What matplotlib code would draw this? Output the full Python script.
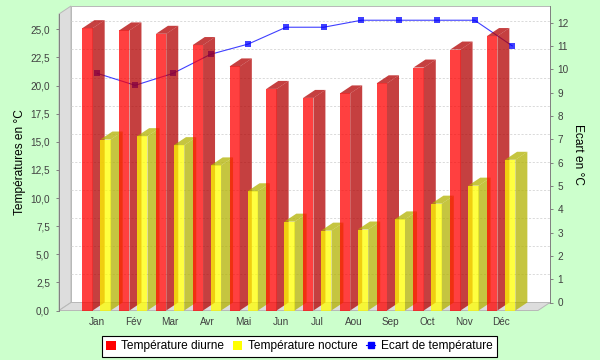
import numpy as np
import matplotlib
matplotlib.use("Agg")
import matplotlib.pyplot as plt
from matplotlib.patches import Polygon, Patch
from matplotlib.lines import Line2D
from matplotlib.ticker import FuncFormatter

# Data
mois = ["Jan", "Fév", "Mar", "Avr", "Mai", "Jun", "Jul", "Aou", "Sep", "Oct", "Nov", "Déc"]
temp_diurne = [25.1, 24.9, 24.6, 23.6, 21.7, 19.7, 18.9, 19.3, 20.2, 21.6, 23.2, 24.4]
temp_nocturne = [15.2, 15.5, 14.7, 12.9, 10.6, 7.9, 7.1, 7.2, 8.1, 9.5, 11.1, 13.4]
ecart = [9.82, 9.31, 9.82, 10.64, 11.08, 11.8, 11.8, 12.1, 12.1, 12.1, 12.1, 11.0]

# Layout (pixels, from top-left of a 600x360 figure)
W, H = 600, 360
PX_L, PX_R, PX_T, PX_B = 59, 538, 14, 310.5   # front plane
DX, DY = 12, 8                                # 3D depth offset
YMAX_L = 26.36
YMAX_R = 12.71
XMIN, XMAX = -1.02, 12.0

BG = "#CCFFCC"
WALL = "#DDDDDD"
AXIS_GREY = "#808080"
TICK_TXT = "#404040"

plt.rcParams['font.family'] = ["Liberation Sans", 'DejaVu Sans']


def frac(x, ytop):
    return (x / W, 1 - ytop / H)


def rect(x0, ytop, x1, ybot):
    return [x0 / W, 1 - ybot / H, (x1 - x0) / W, (ybot - ytop) / H]


fig = plt.figure(figsize=(W / 100, H / 100), dpi=100, facecolor=BG)

# walls (figure level, behind everything)
back = Polygon([frac(PX_L + DX, PX_T - DY), frac(PX_R + DX, PX_T - DY),
                frac(PX_R + DX, PX_B - DY), frac(PX_L + DX, PX_B - DY)],
               closed=True, transform=fig.transFigure, facecolor="white",
               edgecolor="#B8B8B8", linewidth=0.7, zorder=-3)
side = Polygon([frac(PX_L, PX_T), frac(PX_L + DX, PX_T - DY),
                frac(PX_L + DX, PX_B - DY), frac(PX_L, PX_B)],
               closed=True, transform=fig.transFigure, facecolor=WALL,
               edgecolor="#B8B8B8", linewidth=0.7, zorder=-2)
floor = Polygon([frac(PX_L, PX_B), frac(PX_R, PX_B),
                 frac(PX_R + DX, PX_B - DY), frac(PX_L + DX, PX_B - DY)],
                closed=True, transform=fig.transFigure, facecolor=WALL,
                edgecolor="#B8B8B8", linewidth=0.7, zorder=-2)
for p in (back, side, floor):
    fig.add_artist(p)

# secondary axes: back plane, line series
ax2 = fig.add_axes(rect(PX_L, PX_T - DY, PX_R + DX, PX_B - DY), zorder=0)
ax2.patch.set_visible(False)
ax2.set_xlim(XMIN, XMAX)
ax2.set_ylim(0, YMAX_R)
for s in ("left", "top", "bottom"):
    ax2.spines[s].set_visible(False)
ax2.spines["right"].set_color(AXIS_GREY)
ax2.spines["right"].set_linewidth(0.7)
ax2.set_xticks([])
ax2.yaxis.tick_right()
ax2.set_yticks(range(0, 13))
ax2.tick_params(axis="y", colors=AXIS_GREY, labelcolor=TICK_TXT, length=2.5,
                width=0.7, pad=3, labelsize=7.2)
ax2.set_ylabel("Ecart en °C", rotation=270, fontsize=8.6, color="black")
ax2.yaxis.set_label_position("right")
ax2.yaxis.set_label_coords(1 + 34 / (PX_R + DX - PX_L), 0.5)

# gridlines of left axis on back wall
x0_wall = DX / (PX_R + DX - PX_L)
for v in np.arange(0, 26, 2.5):
    ax2.plot([x0_wall, 1], [v / YMAX_L, v / YMAX_L], transform=ax2.transAxes,
             color="#D4D4D4", linewidth=0.6, dashes=(2.5, 2), zorder=1)

ax2.plot(range(len(mois)), ecart, color="blue", alpha=0.75, linewidth=0.8,
         marker="s", markersize=4.4, markeredgewidth=0, zorder=3)

# front axes: bars
ax = fig.add_axes(rect(PX_L, PX_T, PX_R, PX_B), zorder=1)
ax.patch.set_visible(False)
ax.set_xlim(XMIN, XMAX)
ax.set_ylim(0, YMAX_L)

px_x = (PX_R - PX_L) / (XMAX - XMIN)
px_y = (PX_B - PX_T) / YMAX_L
ddx = DX / px_x
ddy = DY / px_y
bw = 10.3 / px_x
off = 9.0 / px_x

x = np.arange(len(mois))
series = [(temp_diurne, "red", (0.698, 0, 0), -off),
          (temp_nocturne, "yellow", (0.698, 0.698, 0), off)]
z = 2
for i in x:
    for vals, col, dark, o in series:
        h = vals[i]
        xl = i + o - bw / 2
        xr = i + o + bw / 2
        ax.bar(i + o, h, width=bw, color=col, alpha=0.75, linewidth=0, zorder=z)
        ax.add_patch(Polygon([(xr, 0), (xr + ddx, ddy), (xr + ddx, h + ddy), (xr, h)],
                             closed=True, facecolor=dark, alpha=0.75, linewidth=0,
                             zorder=z, clip_on=False))
        ax.add_patch(Polygon([(xl, h), (xl + ddx, h + ddy), (xr + ddx, h + ddy), (xr, h)],
                             closed=True, facecolor=dark, alpha=0.75, linewidth=0,
                             zorder=z, clip_on=False))
        z += 1

for s in ("right", "top", "bottom"):
    ax.spines[s].set_visible(False)
ax.spines["left"].set_color(AXIS_GREY)
ax.spines["left"].set_linewidth(0.7)
ax.set_yticks(np.arange(0, 26, 2.5))
ax.yaxis.set_major_formatter(FuncFormatter(lambda v, p: f"{v:.1f}".replace(".", ",")))
ax.tick_params(axis="y", colors=AXIS_GREY, labelcolor=TICK_TXT, length=2.5,
               width=0.7, pad=4, labelsize=7.2)
ax.set_xticks(x)
ax.set_xticklabels(mois)
ax.tick_params(axis="x", length=0, pad=5, labelsize=7.2, labelcolor=TICK_TXT)
ax.set_ylabel("Températures en °C", fontsize=8.6, color="black")
ax.yaxis.set_label_coords(-33 / (PX_R - PX_L), 0.5)

# legend
handles = [Patch(facecolor="red", edgecolor="none"),
           Patch(facecolor="yellow", edgecolor="none"),
           Line2D([0], [0], color="blue", marker="s", markersize=4.4, linewidth=0.8)]
labels = ["Température diurne", "Température nocture", "Ecart de température"]
leg = fig.legend(handles, labels, loc="center", bbox_to_anchor=(0.499, 1 - 346.5 / H),
                 ncol=3, fontsize=8.6, frameon=True, fancybox=False, edgecolor="black",
                 framealpha=1, handlelength=0.8, handleheight=0.8, handletextpad=0.45,
                 columnspacing=0.7, borderpad=0.35, borderaxespad=0)
leg.get_frame().set_linewidth(0.8)

fig.savefig("out.png", dpi=100, facecolor=BG)
